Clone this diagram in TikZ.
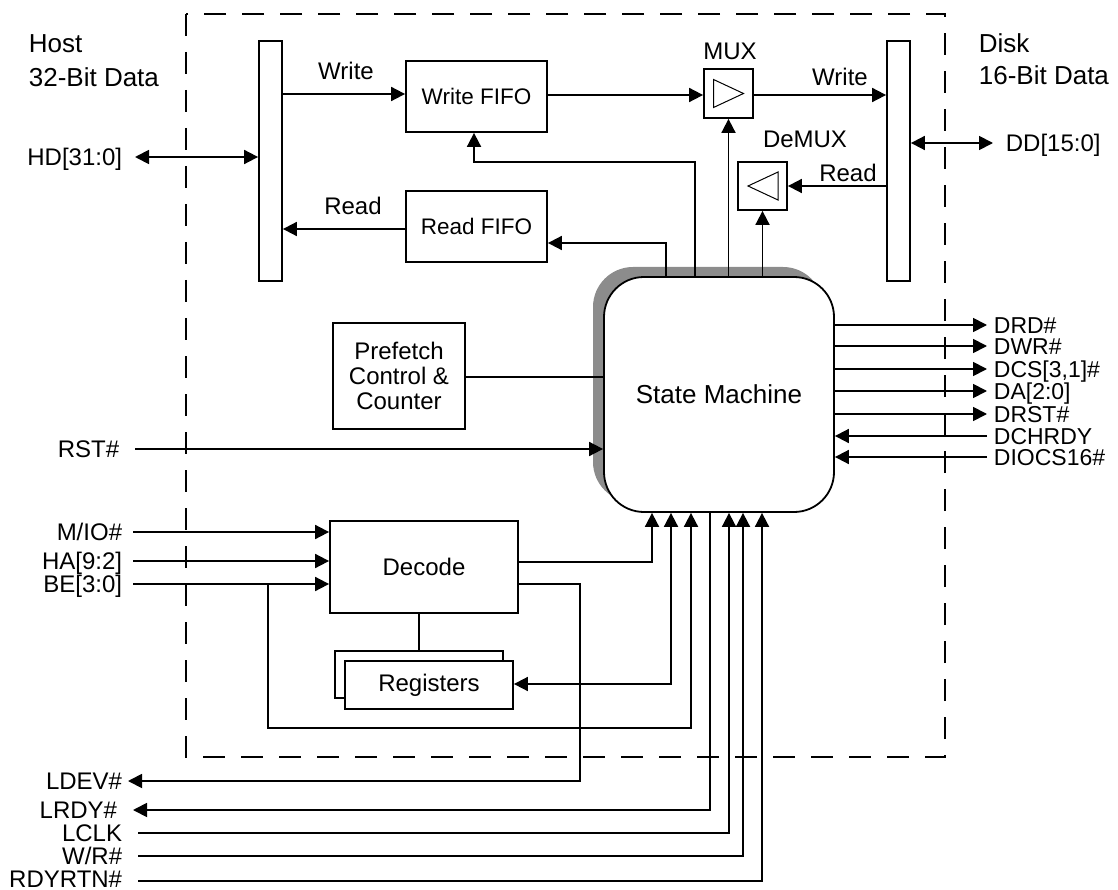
\documentclass[tikz,border=0pt]{standalone}
\usepackage{fontspec}
\setmainfont{Liberation Sans}
\usetikzlibrary{arrows.meta,shadows}
\definecolor{shadowgray}{HTML}{8C8C8C}
\begin{document}
\begin{tikzpicture}[x=1pt,y=-1pt,
  line width=1.8pt,
  font=\fontsize{24}{28}\selectfont,
  mytip/.tip={Triangle[length=14pt,width=14pt]},
  arr/.style={-mytip},
  dbl/.style={mytip-mytip},
  box/.style={draw, rectangle, inner sep=0pt, fill=white, align=center},
  lbl/.style={inner sep=0pt, text height=17pt, text depth=0pt},
  rlbl/.style={lbl, font=\fontsize{23}{26}\selectfont, text height=16.5pt},
  txt/.style={inner sep=0pt, anchor=base},
  head/.style={inner sep=0pt, anchor=base west, font=\fontsize{26}{30}\selectfont},
  glyph/.style={line width=1pt},
  boundary/.style={dash pattern=on 22pt off 16pt}
]
\useasboundingbox (0,0) rectangle (1118,890);

% dashed chip boundary
\draw[boundary] (186,14) rectangle (945,757);

% host / disk headings
\node[head] (host) at (28,53) {Host};
\node[head] (hostw) at (28,87) {32-Bit Data};
\node[head] (disk) at (978,53) {Disk};
\node[head] (diskw) at (978,85) {16-Bit Data};

% bus bars
\node[box, minimum width=23pt, minimum height=240pt] (leftbar) at (270.5,161) {};
\node[box, minimum width=23pt, minimum height=240pt] (rightbar) at (898.5,161) {};

% FIFOs
\node[box, minimum width=141pt, minimum height=71pt, font=\fontsize{22.5}{26}\selectfont] (wfifo) at (476.5,96.5) {Write FIFO};
\node[box, minimum width=141pt, minimum height=71pt, font=\fontsize{22.5}{26}\selectfont] (rfifo) at (476.5,226.5) {Read FIFO};

% MUX / DeMUX
\node[box, minimum width=49pt, minimum height=49pt] (mux) at (728.5,93.5) {};
\node[box, minimum width=49pt, minimum height=48pt] (demux) at (762.5,186) {};
\draw[glyph] ([shift={(-15,-14)}]mux.center) -- ([shift={(15,0)}]mux.center) -- ([shift={(-15,14)}]mux.center) -- cycle;
\draw[glyph] ([shift={(15.5,-14)}]demux.center) -- ([shift={(-14.5,0)}]demux.center) -- ([shift={(15.5,14)}]demux.center) -- cycle;
\node[txt] (muxl) at (730,60) {MUX};
\node[txt] (demuxl) at (805,148) {DeMUX};

% state machine
\node[box, minimum width=230pt, minimum height=235pt, rounded corners=40pt,
  drop shadow={shadow xshift=-11pt, shadow yshift=10pt, opacity=1, fill=shadowgray, draw=none}]
  (sm) at (719,394.5) {\fontsize{26}{30}\selectfont State Machine};

% prefetch
\node[box, minimum width=132pt, minimum height=106pt, font=\fontsize{24}{25}\selectfont] (pref) at (399,376) {Prefetch\\Control \&\\Counter};

% decode and registers
\node[box, minimum width=188pt, minimum height=92pt] (decode) at (424,567) {Decode};
\node[box, minimum width=168pt, minimum height=47pt] (regback) at (419,674.5) {};
\node[box, minimum width=168pt, minimum height=48pt] (reg) at (429,685) {Registers};

% data path labels
\node[txt] (wl1) at (346,80) {Write};
\node[txt] (rl1) at (353,215) {Read};
\node[txt] (wl2) at (840,86) {Write};
\node[txt] (rl2) at (848,182) {Read};

% data bus connections
\node[lbl, anchor=east] (hd) at (123,157) {HD[31:0]};
\draw[dbl] ([xshift=12pt]hd.east) -- (hd.east -| leftbar.west);
\node[lbl, anchor=west] (dd) at (1005,143) {DD[15:0]};
\draw[dbl] (rightbar.east |- dd.west) -- ([xshift=-12pt]dd.west);

\draw[arr] (leftbar.east |- 0,94) -- (wfifo.west |- 0,94);
\draw[arr] (wfifo.east |- 0,95) -- (mux.west |- 0,95);
\draw[arr] (mux.east |- 0,95) -- (rightbar.west |- 0,95);
\draw[arr] (rightbar.west |- demux.east) -- (demux.east);
\draw[arr] (rfifo.west |- 0,229) -- (leftbar.east |- 0,229);

% state machine control to data path
\draw[arr] (666,0 |- sm.north) |- (rfifo.east |- 0,243);
\draw[arr] (695,0 |- sm.north) -- (695,162) -| (474,0 |- wfifo.south);
\draw[arr] (mux.south |- sm.north) -- (mux.south);
\draw[arr] (demux.south |- sm.north) -- (demux.south);

% prefetch link
\draw (pref.east |- 0,377) -- (sm.west |- 0,377);

% RST
\node[lbl, anchor=east] (rst) at (120,449) {RST\#};
\draw[arr] ([xshift=15pt]rst.east) -- (rst.east -| sm.west);

% disk control signals
\node[rlbl, anchor=west] (drd) at (993,325) {DRD\#};
\node[rlbl, anchor=west] (dwr) at (993,346) {DWR\#};
\node[rlbl, anchor=west] (dcs) at (993,369) {DCS[3,1]\#};
\node[rlbl, anchor=west] (da) at (993,391) {DA[2:0]};
\node[rlbl, anchor=west] (drst) at (993,414) {DRST\#};
\node[rlbl, anchor=west] (dchrdy) at (993,436) {DCHRDY};
\node[rlbl, anchor=west] (diocs) at (993,457) {DIOCS16\#};
\draw[arr] (sm.east |- drd.west) -- ([xshift=-6pt]drd.west);
\draw[arr] (sm.east |- dwr.west) -- ([xshift=-6pt]dwr.west);
\draw[arr] (sm.east |- dcs.west) -- ([xshift=-6pt]dcs.west);
\draw[arr] (sm.east |- da.west) -- ([xshift=-6pt]da.west);
\draw[arr] (sm.east |- drst.west) -- ([xshift=-6pt]drst.west);
\draw[arr] ([xshift=-6pt]dchrdy.west) -- (sm.east |- dchrdy.west);
\draw[arr] ([xshift=-6pt]diocs.west) -- (sm.east |- diocs.west);

% host address inputs
\node[lbl, anchor=east] (mio) at (123,532) {M/IO\#};
\node[lbl, anchor=east] (ha) at (123,561) {HA[9:2]};
\node[lbl, anchor=east] (be) at (123,584) {BE[3:0]};
\draw[arr] ([xshift=10pt]mio.east) -- (mio.east -| decode.west);
\draw[arr] ([xshift=10pt]ha.east) -- (ha.east -| decode.west);
\draw[arr] ([xshift=10pt]be.east) -- (be.east -| decode.west);
\draw[arr] (268,0 |- be.east) -- (268,728) -| (691,0 |- sm.south);

% decode outputs
\draw[arr] (decode.east |- 0,562) -| (652,0 |- sm.south);
\node[lbl, anchor=east] (ldev) at (123,781) {LDEV\#};
\draw[arr] (decode.east |- be.east) -- (580,0 |- be.east) -- (580,0 |- ldev.east) -- ([xshift=5pt]ldev.east);
\draw (regback.north |- decode.south) -- (regback.north);
\draw[dbl] (reg.east |- 0,684) -| (671,0 |- sm.south);

% local bus signals
\node[lbl, anchor=east] (lrdy) at (118,810) {LRDY\#};
\node[lbl, anchor=east] (lclk) at (123,833) {LCLK};
\node[lbl, anchor=east] (wr) at (123,856) {W/R\#};
\node[lbl, anchor=east] (rdyrtn) at (123,878.5) {RDYRTN\#};
\draw[arr] (710,0 |- sm.south) |- ([xshift=15pt]lrdy.east);
\draw[arr] ([xshift=15pt]lclk.east) -| (729,0 |- sm.south);
\draw[arr] ([xshift=15pt]wr.east) -| (743,0 |- sm.south);
\draw[arr] ([shift={(15,2.5)}]rdyrtn.east) -| (762,0 |- sm.south);
\end{tikzpicture}
\end{document}
